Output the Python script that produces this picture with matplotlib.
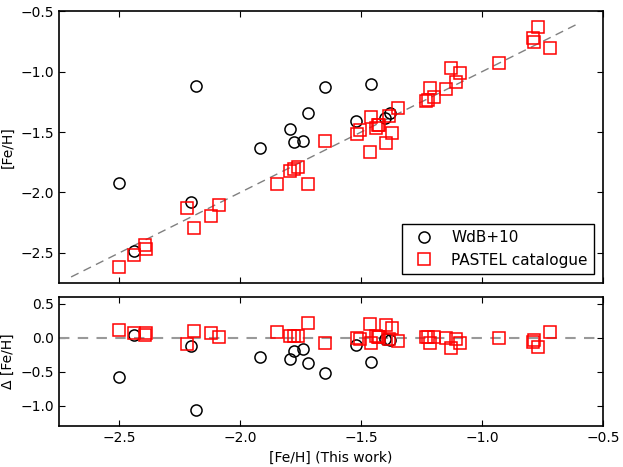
import numpy as np
import matplotlib
matplotlib.use('Agg')
import matplotlib.pyplot as plt

# WdB+10 comparison: [Fe/H] this work vs literature
wdb_this = np.array([-2.50, -2.439, -2.205, -2.183, -1.919, -1.793, -1.778, -1.741,
                     -1.720, -1.649, -1.522, -1.459, -1.400, -1.382])
wdb_lit = np.array([-1.924, -2.481, -2.081, -1.122, -1.632, -1.473, -1.583, -1.574,
                    -1.343, -1.131, -1.412, -1.103, -1.380, -1.345])

# PASTEL catalogue comparison
pas_this = np.array([-2.50, -2.44, -2.393, -2.390, -2.220, -2.190, -2.123, -2.088,
                     -1.847, -1.796, -1.780, -1.763, -1.720, -1.652, -1.518, -1.504,
                     -1.463, -1.460, -1.439, -1.430, -1.425, -1.398, -1.385, -1.371,
                     -1.348, -1.231, -1.222, -1.215, -1.200, -1.148, -1.128, -1.109,
                     -1.090, -0.930, -0.789, -0.784, -0.769, -0.720])
pas_lit = np.array([-2.616, -2.517, -2.434, -2.467, -2.125, -2.293, -2.194, -2.106,
                    -1.932, -1.826, -1.810, -1.793, -1.932, -1.574, -1.515, -1.484,
                    -1.663, -1.379, -1.469, -1.445, -1.440, -1.588, -1.365, -1.511,
                    -1.304, -1.241, -1.232, -1.139, -1.213, -1.142, -0.971, -1.084,
                    -1.012, -0.930, -0.721, -0.751, -0.632, -0.803])

one_to_one = [-2.7, -0.6]
xticks = [-2.5, -2.0, -1.5, -1.0, -0.5]

fs = 10
plt.rcParams['font.family'] = 'DejaVu Sans'
plt.rcParams['font.size'] = fs
plt.rcParams['xtick.direction'] = 'in'
plt.rcParams['ytick.direction'] = 'in'
plt.rcParams['xtick.top'] = True
plt.rcParams['ytick.right'] = True
plt.rcParams['xtick.major.size'] = 4
plt.rcParams['ytick.major.size'] = 4

fig = plt.figure(figsize=(6.23, 4.67), dpi=100)
ax1 = fig.add_axes([0.0947, 0.394, 0.8733, 0.582])
ax2 = fig.add_axes([0.0947, 0.0878, 0.8733, 0.2762])

ms = 8
mew = 1.1
ax1.plot(one_to_one, one_to_one, '--', color='gray', lw=1, dashes=(6, 4))
ax1.plot(wdb_this, wdb_lit, 'o', mfc='none', mec='black', ms=ms, mew=mew, label='WdB+10')
ax1.plot(pas_this, pas_lit, 's', mfc='none', mec='red', ms=ms, mew=mew, label='PASTEL catalogue')
ax1.set_xlim(-2.75, -0.5)
ax1.set_ylim(-2.75, -0.5)
ax1.set_xticks(xticks)
ax1.set_xticklabels([])
ax1.set_yticks([-2.5, -2.0, -1.5, -1.0, -0.5])
ax1.set_ylabel('[Fe/H]')
leg = ax1.legend(loc='lower right', numpoints=1, fancybox=False, framealpha=1,
                 edgecolor='black', borderaxespad=0.6, handletextpad=0.8, fontsize=fs + 1)
leg.get_frame().set_linewidth(1)

ax2.axhline(0, ls='--', color='#999999', lw=1.5, dashes=(5, 4))
ax2.plot(wdb_this, wdb_this - wdb_lit, 'o', mfc='none', mec='black', ms=ms, mew=mew)
ax2.plot(pas_this, pas_this - pas_lit, 's', mfc='none', mec='red', ms=ms, mew=mew)
ax2.set_xlim(-2.75, -0.5)
ax2.set_ylim(-1.3, 0.6)
ax2.set_xticks(xticks)
ax2.set_yticks([-1.0, -0.5, 0.0, 0.5])
ax2.set_xlabel('[Fe/H] (This work)')
ax2.set_ylabel('Δ [Fe/H]')

for a in (ax1, ax2):
    for s in a.spines.values():
        s.set_linewidth(1.2)

fig.savefig('out.png', dpi=100)
